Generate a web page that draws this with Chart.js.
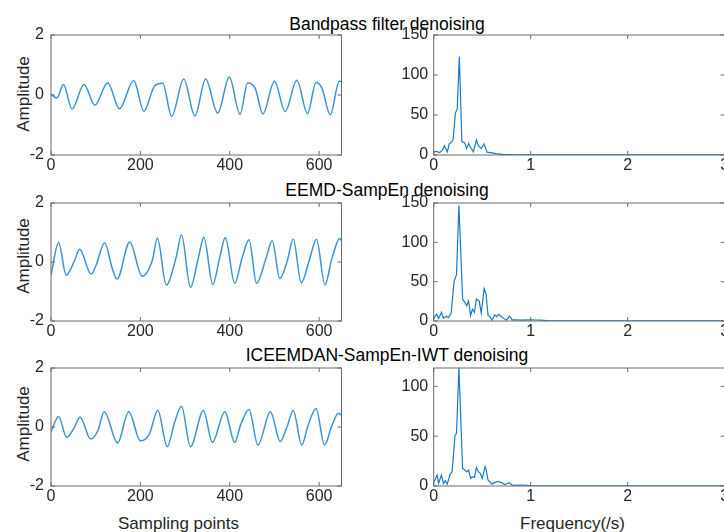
<!DOCTYPE html>
<html>
<head>
<meta charset="utf-8">
<script src="https://cdn.jsdelivr.net/npm/chart.js@4.4.1/dist/chart.umd.min.js"></script>
<style>
html, body { margin: 0; padding: 0; width: 724px; height: 532px; overflow: hidden; background: #fff; }
body { position: relative; font-family: "Liberation Sans", Arial, sans-serif; }
canvas { position: absolute; }
.ttl { position: absolute; font-size: 17.5px; line-height: 20px; color: #000; white-space: nowrap; transform: translateX(-50%); }
.xl { position: absolute; font-size: 17px; line-height: 17px; color: #262626; white-space: nowrap; transform: translateX(-50%); }
.yl { position: absolute; font-size: 17px; line-height: 17px; color: #262626; white-space: nowrap; transform: translate(-50%, -50%) rotate(-90deg); }
</style>
</head>
<body>
<div class="ttl" style="left:387px; top:13.5px">Bandpass filter denoising</div>
<div class="ttl" style="left:387px; top:180px">EEMD-SampEn denoising</div>
<div class="ttl" style="left:387px; top:345px">ICEEMDAN-SampEn-IWT denoising</div>

<div class="yl" style="left:23px; top:94px">Amplitude</div>
<div class="yl" style="left:23px; top:256px">Amplitude</div>
<div class="yl" style="left:23px; top:424px">Amplitude</div>
<div class="xl" style="left:178.5px; top:514.5px">Sampling points</div>
<div class="xl" style="left:572.5px; top:514.5px">Frequency(/s)</div>

<canvas id="t1" width="352" height="156" style="left:0px; top:23px"></canvas>
<canvas id="f1" width="360" height="156" style="left:380px; top:23px"></canvas>
<canvas id="t2" width="352" height="154" style="left:0px; top:191px"></canvas>
<canvas id="f2" width="360" height="154" style="left:380px; top:191px"></canvas>
<canvas id="t3" width="352" height="154" style="left:0px; top:356px"></canvas>
<canvas id="f3" width="360" height="154" style="left:380px; top:356px"></canvas>

<script>
// time domain: sampling point / amplitude (peaks, troughs, shoulders)
const bpIdx = [0, 13, 28, 47, 74, 98, 127, 153, 185, 208, 232, 250, 270, 297, 322, 346, 373, 399, 423, 440, 457, 474, 500, 524, 550, 574, 593, 606, 625, 645, 650];
const bpAmp = [0.02, -0.1, 0.35, -0.47, 0.35, -0.34, 0.41, -0.46, 0.48, -0.54, 0.31, 0.39, -0.71, 0.53, -0.70, 0.53, -0.60, 0.60, -0.64, 0.40, 0.22, -0.63, 0.46, -0.55, 0.49, -0.62, 0.42, 0.24, -0.66, 0.46, 0.45];

const eemdIdx = [0, 17, 34, 52, 64, 90, 101, 120, 137, 148, 176, 204, 227, 238, 258, 280, 292, 312, 330, 342, 362, 378, 390, 411, 428, 443, 460, 481, 495, 512, 528, 542, 560, 578, 594, 613, 628, 646, 650];
const eemdAmp = [-0.44, 0.66, -0.45, 0.02, 0.43, -0.41, -0.1, 0.65, -0.21, -0.58, 0.68, -0.48, 0.07, 0.81, -0.78, 0.16, 0.92, -0.86, 0.16, 0.84, -0.76, 0.19, 0.83, -0.72, 0.16, 0.75, -0.72, 0.12, 0.72, -0.56, 0.0, 0.77, -0.70, 0.06, 0.77, -0.77, 0.08, 0.80, 0.72];

const iceIdx = [0, 17, 35, 52, 65, 89, 105, 119, 149, 174, 200, 220, 239, 260, 277, 292, 312, 341, 361, 389, 411, 425, 443, 463, 491, 513, 528, 542, 561, 575, 593, 612, 628, 643, 650];
const iceAmp = [-0.16, 0.36, -0.35, -0.02, 0.33, -0.41, -0.12, 0.52, -0.54, 0.52, -0.47, -0.24, 0.57, -0.67, 0.18, 0.70, -0.67, 0.56, -0.52, 0.52, -0.52, 0.10, 0.59, -0.61, 0.52, -0.49, 0.0, 0.56, -0.61, 0.04, 0.63, -0.61, 0.02, 0.47, 0.4];

// spectra: frequency / magnitude
const bpFreq = [0, 0.03, 0.06, 0.09, 0.11, 0.14, 0.16, 0.18, 0.2, 0.223, 0.243, 0.264, 0.29, 0.32, 0.34, 0.36, 0.38, 0.41, 0.44, 0.46, 0.49, 0.52, 0.55, 0.59, 0.64, 0.71, 0.81, 0.9, 1.0, 1.5, 2.0, 2.5, 3.0];
const bpMag = [3.8, 4.5, 3.0, 6, 11.5, 3.8, 14, 15.5, 19, 52, 58, 123, 17, 15, 8, 14.5, 9.5, 4, 19, 12, 8, 14, 3.5, 3, 1.8, 0.9, 0.4, 0.2, 0.1, 0.05, 0.05, 0.05, 0.05];

const eemdFreq = [0, 0.03, 0.05, 0.08, 0.10, 0.13, 0.15, 0.18, 0.21, 0.235, 0.26, 0.298, 0.32, 0.34, 0.36, 0.38, 0.40, 0.42, 0.44, 0.47, 0.49, 0.52, 0.54, 0.56, 0.58, 0.60, 0.63, 0.65, 0.67, 0.70, 0.73, 0.75, 0.78, 0.81, 0.85, 0.9, 1.0, 1.05, 1.1, 1.2, 1.5, 2.0, 2.5, 3.0];
const eemdMag = [3.5, 8.6, 3, 11, 3.5, 6, 4, 10, 50, 59, 147, 28, 24, 19.6, 25.5, 7, 15, 11, 28, 25, 10, 41, 34, 7, 5.5, 1, 7.6, 5.5, 8.5, 5.5, 2.7, 1, 6.4, 1.4, 1.5, 1, 1.5, 1.3, 1, 0.3, 0.2, 0.1, 0.1, 0.1];

const iceFreq = [0, 0.035, 0.05, 0.08, 0.10, 0.12, 0.14, 0.17, 0.19, 0.22, 0.235, 0.26, 0.298, 0.32, 0.34, 0.36, 0.38, 0.40, 0.42, 0.44, 0.46, 0.48, 0.50, 0.53, 0.54, 0.56, 0.60, 0.63, 0.66, 0.70, 0.73, 0.78, 0.81, 0.9, 1.0, 1.5, 2.0, 2.5, 3.0];
const iceMag = [3.4, 11, 2.7, 11, 2.7, 5.4, 2, 12, 14.4, 51, 52.7, 118.4, 17.7, 16, 14.4, 16, 7.7, 9.4, 8.7, 18.7, 14.4, 12.7, 7.7, 19.4, 16.7, 6, 2, 3.4, 4.7, 3.4, 1.4, 3.4, 0.7, 1, 0.5, 0.2, 0.1, 0.1, 0.1];

// tick labels
const sampleTicks = [0, 200, 400, 600];
const ampTicks = [-2, 0, 2];
const freqTicks = [0, 1, 2, 3];
const magTicks = [0, 50, 100, 150];
const magTicksLow = [0, 50, 100];

const axisColor = '#262626';
const boxColor = '#6b6b6b';
const tickFont = { family: '"Liberation Sans", Arial, sans-serif', size: 16 };

function toPoints(xs, ys) {
    return xs.map((x, i) => ({ x: x, y: ys[i] }));
}

// box round the plot area, with ticks pointing inwards on all four sides
const boxTicks = {
    id: 'boxTicks',
    afterDraw(chart) {
        const ctx = chart.ctx, a = chart.chartArea;
        const sx = chart.scales.x, sy = chart.scales.y;
        ctx.save();
        ctx.strokeStyle = boxColor;
        ctx.lineWidth = 1;
        ctx.strokeRect(a.left, a.top, a.right - a.left, a.bottom - a.top);
        ctx.beginPath();
        sx.ticks.forEach(t => {
            const px = sx.getPixelForValue(t.value);
            ctx.moveTo(px, a.bottom); ctx.lineTo(px, a.bottom - 4);
            ctx.moveTo(px, a.top); ctx.lineTo(px, a.top + 4);
        });
        sy.ticks.forEach(t => {
            const py = sy.getPixelForValue(t.value);
            ctx.moveTo(a.left, py); ctx.lineTo(a.left + 4, py);
            ctx.moveTo(a.right, py); ctx.lineTo(a.right - 4, py);
        });
        ctx.stroke();
        ctx.restore();
    }
};

function makePlot(id, xs, ys, o) {
    return new Chart(document.getElementById(id), {
        type: 'line',
        data: {
            datasets: [{
                data: toPoints(xs, ys),
                borderColor: o.color,
                borderWidth: o.width,
                pointRadius: 0,
                fill: false,
                cubicInterpolationMode: o.smooth ? 'monotone' : 'default',
                tension: 0
            }]
        },
        options: {
            responsive: false,
            animation: false,
            devicePixelRatio: 1,
            layout: { autoPadding: false, padding: { left: 0, top: 12, right: o.padRight, bottom: 0 } },
            plugins: { legend: { display: false }, tooltip: { enabled: false } },
            scales: {
                x: {
                    type: 'linear', min: o.xMin, max: o.xMax,
                    grid: { display: false, drawTicks: false },
                    border: { display: false },
                    ticks: { font: tickFont, color: axisColor, padding: 1, maxRotation: 0 },
                    afterBuildTicks: s => { s.ticks = o.xTicks.map(v => ({ value: v })); },
                    afterFit: s => { s.height = 24; s.paddingLeft = 0; s.paddingRight = 0; }
                },
                y: {
                    type: 'linear', min: o.yMin, max: o.yMax,
                    grid: { display: false, drawTicks: false },
                    border: { display: false },
                    ticks: { font: tickFont, color: axisColor, padding: o.yPad },
                    afterBuildTicks: s => { s.ticks = o.yTicks.map(v => ({ value: v })); },
                    afterFit: s => { s.width = o.yWidth; s.paddingTop = 0; s.paddingBottom = 0; }
                }
            }
        },
        plugins: [boxTicks]
    });
}

const timeOpts = { smooth: true, color: '#3a93d4', width: 1.5, xMin: 0, xMax: 650, xTicks: sampleTicks, yMin: -2, yMax: 2, yTicks: ampTicks, yWidth: 51, yPad: 7, padRight: 10.5 };
const freqOpts = { smooth: false, color: '#1a7ac6', width: 1.2, xMin: 0, xMax: 3, xTicks: freqTicks, yMin: 0, yMax: 150, yTicks: magTicks, yWidth: 53.7, yPad: 5.5, padRight: 15.3 };

makePlot('t1', bpIdx, bpAmp, timeOpts);
makePlot('f1', bpFreq, bpMag, freqOpts);
makePlot('t2', eemdIdx, eemdAmp, timeOpts);
makePlot('f2', eemdFreq, eemdMag, freqOpts);
makePlot('t3', iceIdx, iceAmp, timeOpts);
makePlot('f3', iceFreq, iceMag, Object.assign({}, freqOpts, { yMax: 118.4, yTicks: magTicksLow }));
</script>
</body>
</html>
